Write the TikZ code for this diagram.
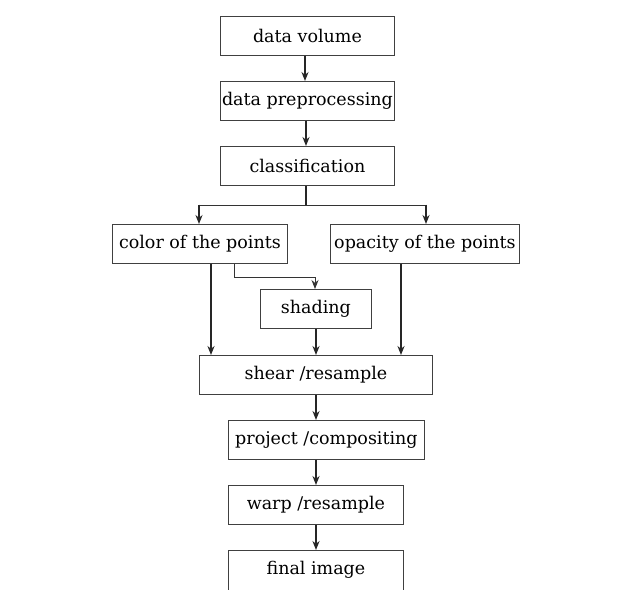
\documentclass[tikz,border=0pt]{standalone}
\usepackage{fontspec}
\setmainfont{DejaVu Serif}
\usetikzlibrary{arrows.meta}
\begin{document}
\begin{tikzpicture}[x=1pt,y=-1pt,
  box/.style={draw=black!75,line width=0.9pt,inner sep=0pt,anchor=north west,
    font=\fontsize{17.5}{21}\selectfont,text=black},
  flow/.style={draw=black!85,line width=1.8pt,-{Stealth[length=9pt,width=7pt]}},
  thin/.style={draw=black!80,line width=0.9pt},
  thinarrow/.style={draw=black!80,line width=0.9pt,-{Stealth[length=9pt,width=7pt]}}]
\clip (0,0) rectangle (618,589);
\fill[white] (0,0) rectangle (618,589);
% boxes given by corners in pixel units
\node[box,minimum width=174,minimum height=39] (vol) at (220,16) {data volume};
\node[box,minimum width=174,minimum height=39] (pre) at (220,81) {data preprocessing};
\node[box,minimum width=174,minimum height=39] (cls) at (220,146) {classification};
\node[box,minimum width=175,minimum height=39] (col) at (112,224) {color of the points};
\node[box,minimum width=189,minimum height=39] (opa) at (330,224) {opacity of the points};
\node[box,minimum width=111,minimum height=39] (shd) at (260,289) {shading};
\node[box,minimum width=233,minimum height=39] (shr) at (199,355) {shear /resample};
\node[box,minimum width=196,minimum height=39] (prj) at (228,420) {project /compositing};
\node[box,minimum width=175,minimum height=39] (wrp) at (228,485) {warp /resample};
% last box runs past the lower edge of the page
\node[box,draw=none,minimum width=175,minimum height=39] (fin) at (228,550) {final image};
\draw[black!75,line width=0.9pt] (fin.north west) rectangle (fin.east |- 0,600);
% main chain
\draw[flow] (vol.south -| 305,0) -- (pre.north -| 305,0);
\draw[flow] (pre.south -| 306,0) -- (cls.north -| 306,0);
% split after classification
\coordinate (split) at (306,205);
\draw[line width=1.8pt,draw=black!85] (cls.south -| split) -- (split);
\draw[thin] (199,205) -- (426,205);
\draw[flow] (199,204.5) -- (col.north -| 199,0);
\draw[flow] (426,204.5) -- (opa.north -| 426,0);
% colour to shading
\coordinate (bend) at (234,277);
\draw[thinarrow] (col.south -| bend) -- (bend) -- (315,277) -- (shd.north -| 315,0);
% into shear / resample
\draw[flow] (col.south -| 211,0) -- (shr.north -| 211,0);
\draw[flow] (shd.south -| 316,0) -- (shr.north -| 316,0);
\draw[flow] (opa.south -| 401,0) -- (shr.north -| 401,0);
% rest of chain
\draw[flow] (shr.south -| 316,0) -- (prj.north -| 316,0);
\draw[flow] (prj.south -| 316,0) -- (wrp.north -| 316,0);
\draw[flow] (wrp.south -| 316,0) -- (fin.north -| 316,0);
\end{tikzpicture}
\end{document}
